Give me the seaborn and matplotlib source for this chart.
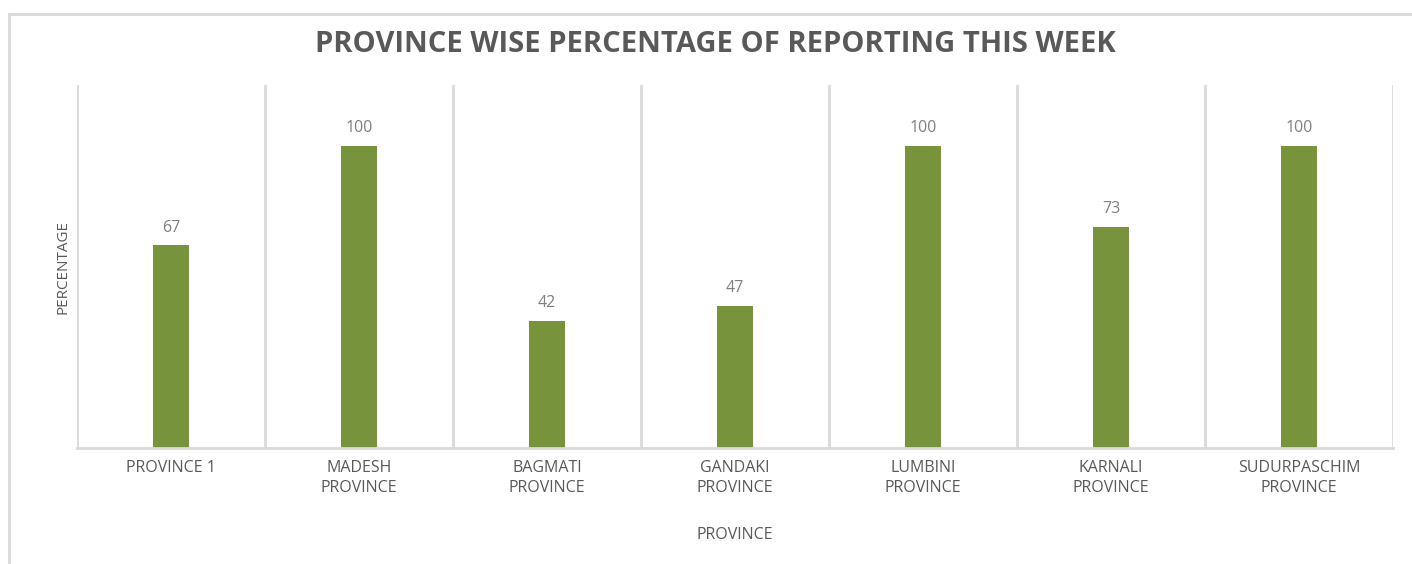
import matplotlib
matplotlib.use("Agg")
import matplotlib.pyplot as plt
import seaborn as sns
import pandas as pd
from matplotlib.patches import Rectangle

categories = ["PROVINCE 1", "MADESH\nPROVINCE", "BAGMATI\nPROVINCE", "GANDAKI\nPROVINCE",
              "LUMBINI\nPROVINCE", "KARNALI\nPROVINCE", "SUDURPASCHIM\nPROVINCE"]
values = [67, 100, 42, 47, 100, 73, 100]

df = pd.DataFrame({"province": categories, "pct": values})

sns.set_theme(style="white")
plt.rcParams['font.family'] = ['Open Sans', 'DejaVu Sans']

W, H = 1412, 564
fig = plt.figure(figsize=(W / 100, H / 100), dpi=100)
ax = fig.add_axes([77 / W, 1 - 448 / H, (1393 - 77) / W, (448 - 85) / H])

sns.barplot(data=df, x="province", y="pct", ax=ax, color="#77933C",
            width=0.19, saturation=1, edgecolor="none")

ax.set_ylim(0, 120)
ax.set_xlim(-0.5, len(categories) - 0.5)
ax.set_yticks([])
for i in range(len(categories) + 1):
    ax.axvline(i - 0.5, color="#D9D9D9", lw=2, zorder=0)
for s in ["top", "right", "left"]:
    ax.spines[s].set_visible(False)
ax.spines["bottom"].set_color("#D9D9D9")
ax.spines["bottom"].set_linewidth(2)

for c in ax.containers:
    ax.bar_label(c, labels=[f"{v:.0f}" for v in values], padding=7,
                 color="#7F7F7F", fontsize=11.5)

ax.set_xticks(range(len(categories)))
ax.set_xticklabels(categories, color="#595959", fontsize=11.5, linespacing=1.3)
ax.tick_params(axis="x", length=0, pad=9)
ax.set_xlabel("PROVINCE", color="#595959", fontsize=11.5, labelpad=22)
ax.set_ylabel("PERCENTAGE", color="#595959", fontsize=11, labelpad=5)

fig.text(715 / W, 1 - 45 / H, "PROVINCE WISE PERCENTAGE OF REPORTING THIS WEEK",
         ha="center", va="center", fontsize=21, fontweight="bold", color="#595959")

fig.patches.append(Rectangle((9 / W, -0.1), 1.2, 1 - 14 / H + 0.1,
                             transform=fig.transFigure, fill=False,
                             edgecolor="#D9D9D9", lw=2))

fig.savefig("out.png", dpi=100, facecolor="white")
